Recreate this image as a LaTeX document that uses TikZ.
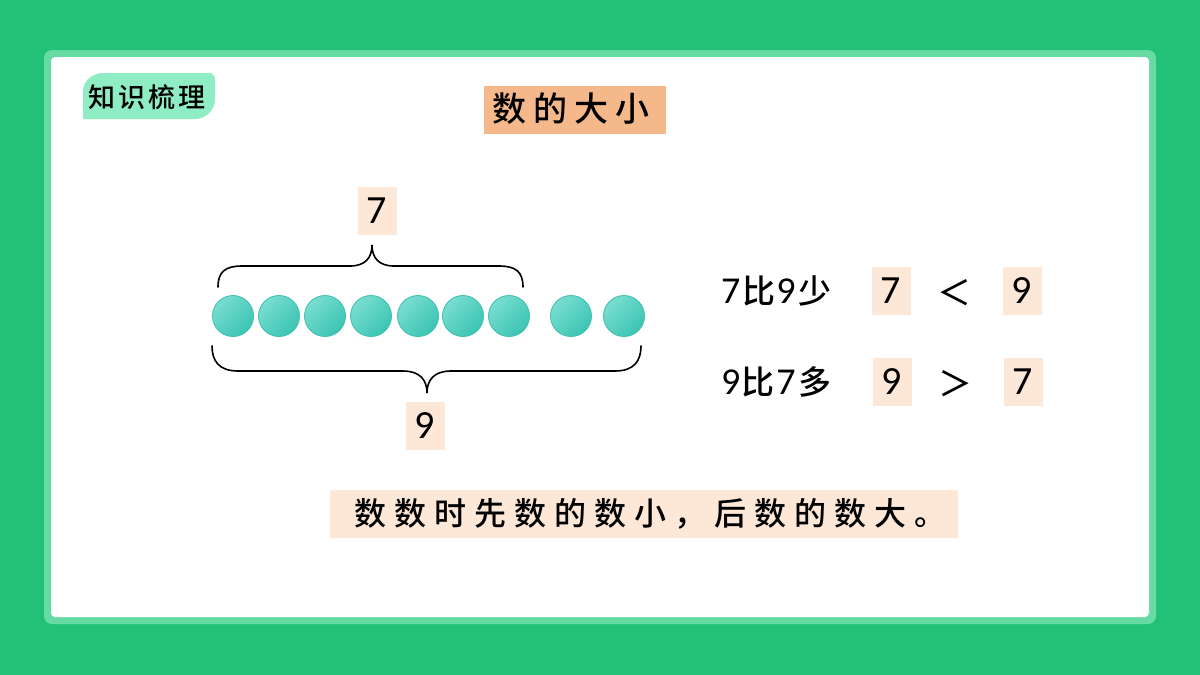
\documentclass[tikz,border=0pt]{standalone}
\usepackage{fontspec}
\setmainfont{Carlito}
\newfontfamily\cjk{Noto Sans CJK SC Medium}
\newfontfamily\cjksp[LetterSpace=20]{Noto Sans CJK SC Medium}
\newfontfamily\cjkspc[LetterSpace=25]{Noto Sans CJK SC Medium}
\newfontfamily\cjkspb[LetterSpace=10]{Noto Sans CJK SC Medium}
\definecolor{bggreen}{HTML}{22C177}
\definecolor{rimgreen}{HTML}{66DCA4}
\definecolor{taggreen}{HTML}{8FEDC4}
\definecolor{titleorange}{HTML}{F5B88A}
\definecolor{peach}{HTML}{FDE8D8}
\definecolor{tealA}{HTML}{78DDD1}
\definecolor{tealB}{HTML}{3CC4B3}
\definecolor{tealrim}{HTML}{3BBFAE}
\tikzset{
  numbox/.style={fill=peach, minimum width=39pt, minimum height=48pt, inner sep=0pt,
    font=\fontsize{40}{40}\selectfont},
  ball/.style={circle, minimum size=41pt, inner sep=0pt, draw=tealrim, line width=0.8pt,
    left color=tealA, right color=tealB, shading angle=45},
  brace/.style={line width=1.6pt, black, line cap=round},
  rowtext/.style={anchor=west, inner sep=0pt, font=\fontsize{38}{38}\selectfont},
  sign/.style={inner sep=0pt, font=\cjk\fontsize{34}{34}\selectfont}
}
\newcommand{\hz}[1]{{\cjk\fontsize{33}{33}\selectfont #1}}
\begin{document}
\begin{tikzpicture}[x=1pt,y=-1pt]
\useasboundingbox (0,0) rectangle (1200,675);
\fill[bggreen] (0,0) rectangle (1200,675);
\fill[rimgreen, rounded corners=8pt] (44,50) rectangle (1156,624);
\fill[white, rounded corners=4pt] (51,57) rectangle (1149,617);
% tag
\fill[taggreen] (83,119) -- (83,92) to[out=90,in=180] (103,73) -- (209,73)
  to[out=0,in=90] (215,79) -- (215,99) to[out=-90,in=0] (195,119) -- cycle;
\node[inner sep=0pt, font=\cjkspb\fontsize{27}{27}\selectfont] (tag) at (147,97) {知识梳理};
% title
\node[fill=titleorange, minimum width=182pt, minimum height=48pt, inner sep=0pt] (title) at (575,110) {};
\node[inner sep=0pt, font=\cjksp\fontsize{34}{34}\selectfont] (titletext) at (571,109) {数的大小};
% balls
\foreach \i/\x in {1/233,2/279,3/325,4/371,5/418,6/463,7/509,8/571,9/624}{
  \node[ball] (b\i) at (\x,316) {};
}
% braces
\coordinate (t1) at (218,287); \coordinate (t2) at (523,287); \coordinate (tt) at (372,245);
\draw[brace] (t1) .. controls (218,272) and (225,266) .. (242,266) -- (350,266)
  .. controls (365,266) and (372,258) .. (tt)
  .. controls (372,258) and (379,266) .. (394,266) -- (499,266)
  .. controls (516,266) and (523,272) .. (t2);
\coordinate (u1) at (212,346); \coordinate (u2) at (641,346); \coordinate (ut) at (427,393);
\draw[brace] (u1) .. controls (212,361) and (219,371) .. (238,371) -- (403,371)
  .. controls (420,371) and (427,380) .. (ut)
  .. controls (427,380) and (434,371) .. (451,371) -- (615,371)
  .. controls (634,371) and (641,361) .. (u2);
\node[numbox] (seven) at (377,211) {7};
\node[numbox] (nine) at (425,426) {9};
% comparisons
\node[rowtext] (r1) at (721,291) {7\hspace{2pt}\hz{比}\hspace{1pt}9\hspace{3pt}\hz{少}};
\node[numbox] (a1) at (891,291) {7};
\node[sign] (lt) at (954,293) {＜};
\node[numbox] (a2) at (1022,291) {9};
\node[rowtext] (r2) at (721,382) {9\hspace{1pt}\hz{比}\hspace{2pt}7\hspace{3pt}\hz{多}};
\node[numbox] (c1) at (892,382) {9};
\node[sign] (gt) at (955,384) {＞};
\node[numbox] (c2) at (1023,382) {7};
% rule
\node[fill=peach, minimum width=628pt, minimum height=48pt, inner sep=0pt] (rule) at (644,514) {};
\node[inner sep=0pt, font=\cjkspc\fontsize{32}{32}\selectfont] (ruletext) at (650,514) {数数时先数的数小，后数的数大。};
\end{tikzpicture}
\end{document}
